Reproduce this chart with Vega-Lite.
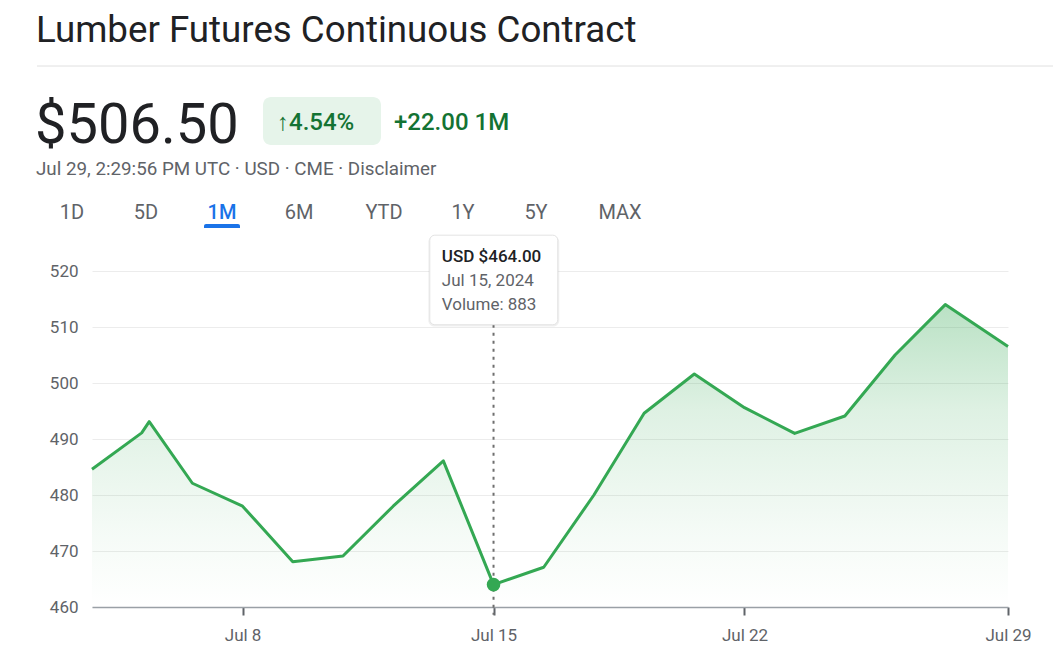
{
  "$schema": "https://vega.github.io/schema/vega-lite/v6.json",
  "width": 916,
  "height": 336,
  "autosize": {"type": "none"},
  "padding": {"left": 92, "top": 271, "right": 45, "bottom": 62},
  "background": "white",
  "config": {"view": {"stroke": null}, "font": "Roboto", "text": {"font": "Roboto"}},
  "datasets": {
    "prices": [
      {"t": 0, "price": 484.6},
      {"t": 0.99, "price": 491.1},
      {"t": 1.14, "price": 493.1},
      {"t": 2, "price": 482.1},
      {"t": 3, "price": 478.0},
      {"t": 4, "price": 468.1},
      {"t": 5, "price": 469.1},
      {"t": 6, "price": 478.0},
      {"t": 7, "price": 486.1},
      {"t": 8, "price": 464.0},
      {"t": 9, "price": 467.1},
      {"t": 10, "price": 480.0},
      {"t": 11, "price": 494.6},
      {"t": 12, "price": 501.6},
      {"t": 13, "price": 495.6},
      {"t": 14, "price": 491.0},
      {"t": 15, "price": 494.1},
      {"t": 16, "price": 505.0},
      {"t": 17, "price": 514.0},
      {"t": 18.25, "price": 506.5}
    ]
  },
  "layer": [
    {
      "data": {"name": "prices"},
      "mark": {
        "type": "area",
        "color": {
          "gradient": "linear", "x1": 0, "y1": 0, "x2": 0, "y2": 1,
          "stops": [
            {"offset": 0, "color": "rgba(52,168,83,0.34)"},
            {"offset": 0.35, "color": "rgba(52,168,83,0.16)"},
            {"offset": 0.75, "color": "rgba(52,168,83,0.05)"},
            {"offset": 1, "color": "rgba(52,168,83,0.0)"}
          ]
        }
      },
      "encoding": {
        "x": {
          "field": "t", "type": "quantitative",
          "scale": {"domain": [0, 18.25], "nice": false, "zero": false},
          "axis": {
            "title": null, "grid": false,
            "values": [3, 8, 13, 18.25],
            "labelExpr": "datum.value == 3 ? 'Jul 8' : datum.value == 8 ? 'Jul 15' : datum.value == 13 ? 'Jul 22' : 'Jul 29'",
            "domainColor": "#9aa0a6", "domainWidth": 1.5,
            "tickColor": "#5f6368", "tickWidth": 2, "tickSize": 8,
            "labelFont": "Roboto", "labelFontSize": 17, "labelColor": "#5f6368",
            "labelPadding": 12, "labelFlush": false, "labelBound": false, "labelOverlap": false
          }
        },
        "y": {
          "field": "price", "type": "quantitative",
          "scale": {"domain": [460, 520], "nice": false, "zero": false},
          "axis": {
            "title": null, "grid": true, "gridColor": "#ececec", "gridWidth": 1,
            "values": [460, 470, 480, 490, 500, 510, 520],
            "domain": false, "ticks": false, "tickSize": 0,
            "labelFont": "Roboto", "labelFontSize": 17, "labelColor": "#5f6368",
            "labelPadding": 14
          }
        },
        "y2": {"datum": 460}
      }
    },
    {
      "data": {"name": "prices"},
      "mark": {"type": "line", "color": "#34a853", "strokeWidth": 3, "strokeJoin": "round"},
      "encoding": {
        "x": {"field": "t", "type": "quantitative"},
        "y": {"field": "price", "type": "quantitative"}
      }
    },
    {
      "data": {"name": "prices"},
      "transform": [{"filter": "datum.t == 8"}],
      "mark": {"type": "rule", "color": "#6f6f6f", "strokeWidth": 2, "strokeDash": [3, 5]},
      "encoding": {
        "x": {"field": "t", "type": "quantitative"},
        "y": {"datum": 510.4},
        "y2": {"datum": 458.6}
      }
    },
    {
      "data": {"name": "prices"},
      "transform": [{"filter": "datum.t == 8"}],
      "mark": {"type": "point", "shape": "circle", "filled": true, "opacity": 1, "color": "#34a853", "size": 185},
      "encoding": {
        "x": {"field": "t", "type": "quantitative"},
        "y": {"field": "price", "type": "quantitative"}
      }
    },
    {
      "data": {"values": [{"label": "tooltip"}]},
      "mark": {"type": "rect", "color": "#000000", "opacity": 0.06, "cornerRadius": 6, "yOffset": 2},
      "encoding": {
        "x": {"datum": 6.7}, "x2": {"datum": 9.31},
        "y": {"datum": 526.6}, "y2": {"datum": 510.1}
      }
    },
    {
      "data": {"values": [{"label": "tooltip"}]},
      "mark": {"type": "rect", "fill": "#ffffff", "stroke": "#e3e3e3", "strokeWidth": 1, "cornerRadius": 5},
      "encoding": {
        "x": {"datum": 6.73}, "x2": {"datum": 9.28},
        "y": {"datum": 526.4}, "y2": {"datum": 510.4}
      }
    },
    {
      "data": {"values": [{"label": "USD $464.00"}]},
      "mark": {"type": "text", "align": "left", "baseline": "alphabetic", "fontSize": 17, "fontWeight": 500, "color": "#202124"},
      "encoding": {"x": {"datum": 6.97}, "y": {"datum": 521.6}, "text": {"field": "label"}}
    },
    {
      "data": {"values": [{"label": "Jul 15, 2024"}]},
      "mark": {"type": "text", "align": "left", "baseline": "alphabetic", "fontSize": 17, "color": "#5f6368"},
      "encoding": {"x": {"datum": 6.97}, "y": {"datum": 517.3}, "text": {"field": "label"}}
    },
    {
      "data": {"values": [{"label": "Volume: 883"}]},
      "mark": {"type": "text", "align": "left", "baseline": "alphabetic", "fontSize": 17, "color": "#5f6368"},
      "encoding": {"x": {"datum": 6.97}, "y": {"datum": 513.1}, "text": {"field": "label"}}
    },
    {
      "data": {"values": [{"label": "Lumber Futures Continuous Contract"}]},
      "mark": {"type": "text", "align": "left", "baseline": "alphabetic", "fontSize": 36.7, "color": "#202124"},
      "encoding": {"x": {"value": -56}, "y": {"value": -229}, "text": {"field": "label"}}
    },
    {
      "data": {"values": [{"label": "separator"}]},
      "mark": {"type": "rule", "color": "#e0e0e0", "strokeWidth": 1},
      "encoding": {"x": {"value": -55}, "x2": {"value": 961}, "y": {"value": -205}}
    },
    {
      "data": {"values": [{"label": "$506.50"}]},
      "mark": {"type": "text", "align": "left", "baseline": "alphabetic", "fontSize": 56, "color": "#202124"},
      "encoding": {"x": {"value": -57}, "y": {"value": -128}, "text": {"field": "label"}}
    },
    {
      "data": {"values": [{"label": "badge"}]},
      "mark": {"type": "rect", "color": "#e6f4ea", "cornerRadius": 8},
      "encoding": {"x": {"value": 171}, "x2": {"value": 289}, "y": {"value": -174}, "y2": {"value": -126}}
    },
    {
      "data": {"values": [{"label": "↑4.54%"}]},
      "mark": {"type": "text", "align": "left", "baseline": "alphabetic", "fontSize": 24, "fontWeight": 500, "color": "#137333"},
      "encoding": {"x": {"value": 185}, "y": {"value": -141}, "text": {"field": "label"}}
    },
    {
      "data": {"values": [{"label": "+22.00 1M"}]},
      "mark": {"type": "text", "align": "left", "baseline": "alphabetic", "fontSize": 24, "fontWeight": 500, "color": "#137333"},
      "encoding": {"x": {"value": 302}, "y": {"value": -141}, "text": {"field": "label"}}
    },
    {
      "data": {"values": [{"label": "Jul 29, 2:29:56 PM UTC · USD · CME · Disclaimer"}]},
      "mark": {"type": "text", "align": "left", "baseline": "alphabetic", "fontSize": 18.8, "color": "#5f6368"},
      "encoding": {"x": {"value": -56}, "y": {"value": -96}, "text": {"field": "label"}}
    },
    {
      "data": {"values": [{"label": "1D"}]},
      "mark": {"type": "text", "align": "center", "baseline": "alphabetic", "fontSize": 20, "color": "#5f6368"},
      "encoding": {"x": {"value": -20}, "y": {"value": -52}, "text": {"field": "label"}}
    },
    {
      "data": {"values": [{"label": "5D"}]},
      "mark": {"type": "text", "align": "center", "baseline": "alphabetic", "fontSize": 20, "color": "#5f6368"},
      "encoding": {"x": {"value": 54}, "y": {"value": -52}, "text": {"field": "label"}}
    },
    {
      "data": {"values": [{"label": "1M"}]},
      "mark": {"type": "text", "align": "center", "baseline": "alphabetic", "fontSize": 20, "fontWeight": 500, "color": "#1a73e8"},
      "encoding": {"x": {"value": 130}, "y": {"value": -52}, "text": {"field": "label"}}
    },
    {
      "data": {"values": [{"label": "6M"}]},
      "mark": {"type": "text", "align": "center", "baseline": "alphabetic", "fontSize": 20, "color": "#5f6368"},
      "encoding": {"x": {"value": 207}, "y": {"value": -52}, "text": {"field": "label"}}
    },
    {
      "data": {"values": [{"label": "YTD"}]},
      "mark": {"type": "text", "align": "center", "baseline": "alphabetic", "fontSize": 20, "color": "#5f6368"},
      "encoding": {"x": {"value": 292}, "y": {"value": -52}, "text": {"field": "label"}}
    },
    {
      "data": {"values": [{"label": "1Y"}]},
      "mark": {"type": "text", "align": "center", "baseline": "alphabetic", "fontSize": 20, "color": "#5f6368"},
      "encoding": {"x": {"value": 371}, "y": {"value": -52}, "text": {"field": "label"}}
    },
    {
      "data": {"values": [{"label": "5Y"}]},
      "mark": {"type": "text", "align": "center", "baseline": "alphabetic", "fontSize": 20, "color": "#5f6368"},
      "encoding": {"x": {"value": 444}, "y": {"value": -52}, "text": {"field": "label"}}
    },
    {
      "data": {"values": [{"label": "MAX"}]},
      "mark": {"type": "text", "align": "center", "baseline": "alphabetic", "fontSize": 20, "color": "#5f6368"},
      "encoding": {"x": {"value": 528}, "y": {"value": -52}, "text": {"field": "label"}}
    },
    {
      "data": {"values": [{"label": "tab underline"}]},
      "mark": {"type": "rect", "color": "#1a73e8", "cornerRadiusTopLeft": 3, "cornerRadiusTopRight": 3},
      "encoding": {"x": {"value": 112}, "x2": {"value": 148}, "y": {"value": -47}, "y2": {"value": -43}}
    }
  ]
}
